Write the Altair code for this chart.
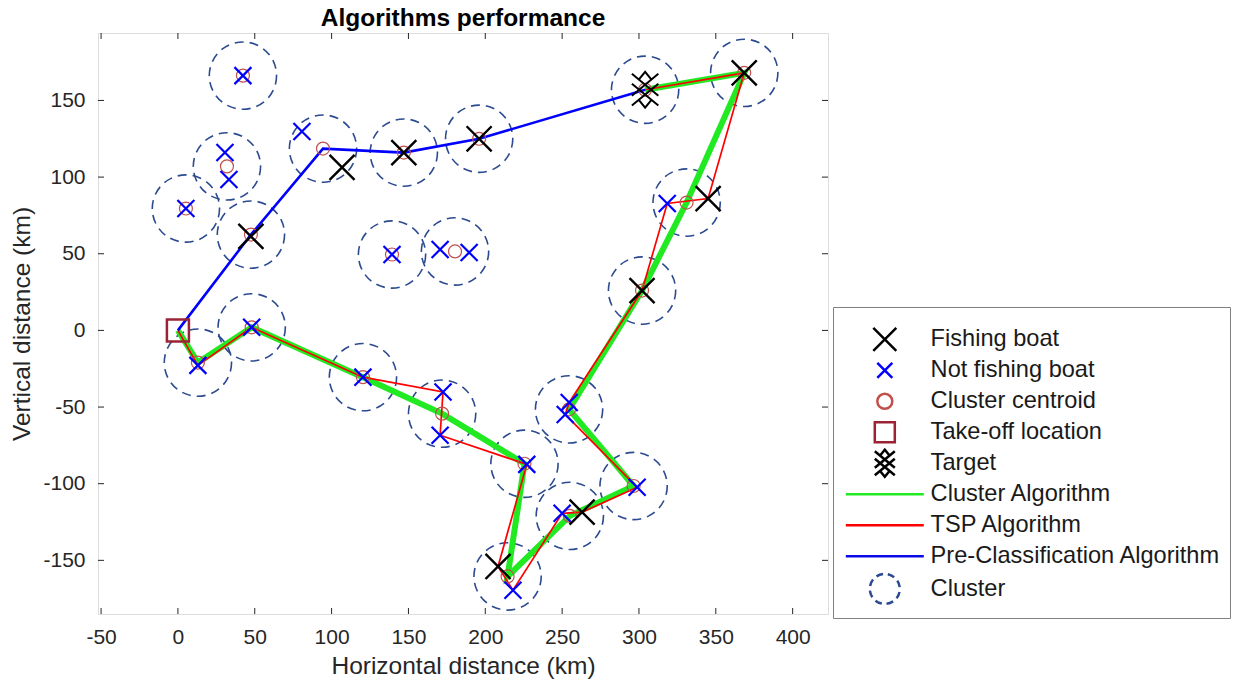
import math
import altair as alt
import pandas as pd

# ---------------- data (km) ----------------
fishing_x = [47.5, 106.8, 147.0, 196.0, 368.5, 345.0, 302.0, 263.0, 208.3]
fishing_y = [61.3, 106.3, 116.0, 125.0, 168.0, 86.0, 26.0, -118.6, -154.0]

notfish_x = [42.3, 30.6, 33.2, 5.2, 80.7, 139.3, 170.6, 189.5, 318.4, 13.0, 48.0, 120.4,
             172.5, 170.6, 227.0, 254.6, 252.0, 298.8, 250.0, 218.0]
notfish_y = [166.2, 116.0, 98.4, 79.5, 129.7, 49.5, 52.8, 50.8, 82.8, -22.8, 2.0, -30.5,
             -40.2, -68.4, -87.4, -47.0, -54.8, -102.3, -119.3, -169.5]

centroid_x = [42.3, 31.9, 5.2, 47.5, 94.4, 147.0, 139.3, 180.3, 196.0, 304.0, 368.5, 331.0,
              302.0, 13.0, 48.0, 120.4, 171.9, 225.5, 254.5, 296.5, 255.0, 214.5]
centroid_y = [166.2, 107.0, 79.5, 62.5, 118.6, 116.0, 49.5, 51.5, 125.0, 157.0, 168.0, 83.4,
              26.0, -21.0, 2.0, -30.5, -54.3, -87.0, -51.5, -101.5, -121.0, -160.5]

takeoff_x = [0.0]
takeoff_y = [0.0]
target_x = [304.0]
target_y = [157.0]

cluster_radius_km = 24.7

green_x = [0, 13, 48, 120.4, 171.9, 225.5, 214.5, 255, 296.5, 254.5, 302, 331, 368.5, 304]
green_y = [0, -21, 2, -30.5, -54.3, -87, -160.5, -121, -101.5, -51.5, 26, 83.4, 168, 157]

red_x = [0, 13, 48, 120.4, 172.5, 170.6, 227, 208.3, 218, 250, 263, 298.8, 252, 254.6, 302,
         318.4, 345, 368.5, 304]
red_y = [0, -22.8, 2, -30.5, -40.2, -68.4, -87.4, -154, -169.5, -119.3, -118.6, -102.3,
         -54.8, -47, 26, 82.8, 86, 168, 157]

blue_x = [0, 47.5, 94.4, 147, 196, 304]
blue_y = [0, 62.5, 118.6, 116, 125, 157]

x_ticks = [-50, 0, 50, 100, 150, 200, 250, 300, 350, 400]
y_ticks = [-150, -100, -50, 0, 50, 100, 150]

cats = ["Fishing boat", "Not fishing boat", "Cluster centroid", "Take-off location", "Target",
        "Cluster Algorithm", "TSP Algorithm", "Pre-Classification Algorithm", "Cluster"]

# ---------------- styles ----------------
X_DOM = [-52, 423]
Y_DOM = [-185, 194]
W, H = 730, 581
PXKM = W / (X_DOM[1] - X_DOM[0])
AX = "#262626"
FONT = "Liberation Sans, Arial, sans-serif"

C_BLACK = "#000000"
C_BLUE = "#0000ff"
C_CENT = "#c0504d"
C_TAKE = "#9b2335"
C_GREEN = "#22ea22"
C_RED = "#ff0000"
C_LBLUE = "#0a0ae6"
C_CLUS = "#2b4a8f"
colors = [C_BLACK, C_BLUE, C_CENT, C_TAKE, C_BLACK, C_GREEN, C_RED, C_LBLUE, C_CLUS]

EXT = 1.35  # common vertical extent of every legend glyph (keeps rows even)
PAD = f"M0,{-EXT}L0,{-EXT}M0,{EXT}L0,{EXT}"


def xpath(h):
    return f"M{-h},{-h}L{h},{h}M{h},{-h}L{-h},{h}" + PAD


def circ(r):
    return f"M{r},0A{r},{r} 0 1,1 {-r},0A{r},{r} 0 1,1 {r},0Z" + PAD


def square(h):
    return f"M{-h},{-h}L{h},{-h}L{h},{h}L{-h},{h}Z" + PAD


def hline(h):
    return f"M{-h},0L{h},0" + PAD


def dashed_circle(r, n=8, frac=0.6):
    parts = []
    for k in range(n):
        a0 = 2 * math.pi * k / n + 0.2
        a1 = a0 + 2 * math.pi / n * frac
        parts.append(f"M{r*math.cos(a0):.3f},{r*math.sin(a0):.3f}"
                     f"A{r},{r} 0 0,1 {r*math.cos(a1):.3f},{r*math.sin(a1):.3f}")
    return "".join(parts)


t = EXT
target_path = (f"M-1,{-t+0.15}L1,{0.45}M1,{-t+0.15}L-1,{0.45}"
               f"M-1,-0.45L1,{t-0.15}M1,-0.45L-1,{t-0.15}"
               f"M-0.45,-0.8L0,{-t}L0.45,-0.8"
               f"M-0.45,0.8L0,{t}L0.45,0.8")

shapes = [xpath(1.15), xpath(0.75), circ(0.75), square(1.0), target_path,
          hline(3.9), hline(3.9), hline(3.9), dashed_circle(1.5)]

# ---------------- frames ----------------
def pts(xs, ys, name):
    return pd.DataFrame({"x": xs, "y": ys, "series": name})


def path_df(xs, ys):
    return pd.DataFrame({"x": xs, "y": ys, "i": list(range(len(xs)))})


xscale = alt.Scale(domain=X_DOM, nice=False, zero=False)
yscale = alt.Scale(domain=Y_DOM, nice=False, zero=False)
xaxis = alt.Axis(values=x_ticks, ticks=False, domain=False, grid=False,
                 labelFont=FONT, labelFontSize=21, labelColor=AX, labelPadding=12,
                 labelExpr="datum.value + ''",
                 title="Horizontal distance (km)", titleFont=FONT, titleFontSize=24.5,
                 titleFontWeight="normal", titleColor=AX, titlePadding=7)
yaxis = alt.Axis(values=y_ticks, ticks=False, domain=False, grid=False,
                 labelFont=FONT, labelFontSize=21, labelColor=AX, labelPadding=13,
                 labelExpr="datum.value + ''",
                 title="Vertical distance (km)", titleFont=FONT, titleFontSize=24.5,
                 titleFontWeight="normal", titleColor=AX, titlePadding=8)

X = alt.X("x:Q", scale=xscale, axis=xaxis)
Y = alt.Y("y:Q", scale=yscale, axis=yaxis)

leg = alt.Legend(title=" ", titleFontSize=1, titlePadding=10.5,
                 orient="none", legendX=735, legendY=274, padding=9,
                 rowPadding=-7.4, symbolSize=400, symbolStrokeWidth=2.5,
                 symbolOpacity=1, symbolFillColor="transparent",
                 labelFont=FONT, labelFontSize=23.6, labelColor="#1a1a1a",
                 labelLimit=600, symbolOffset=31, labelOffset=34,
                 strokeColor="#808080", fillColor="white")

cscale = alt.Scale(domain=cats, range=colors)
sscale = alt.Scale(domain=cats, range=shapes)


def marker_layer(df, size, sw):
    return alt.Chart(df).mark_point(filled=False, opacity=1, size=size, strokeWidth=sw).encode(
        x=X, y=Y,
        color=alt.Color("series:N", scale=cscale, legend=leg),
        shape=alt.Shape("series:N", scale=sscale, legend=leg),
    )


r_px = cluster_radius_km * PXKM
circles = alt.Chart(pts(centroid_x, centroid_y, "Cluster")).mark_point(
    shape="circle", filled=False, opacity=1, size=math.pi * r_px ** 2,
    color=C_CLUS, strokeWidth=1.6, strokeDash=[9, 6]
).encode(x=X, y=Y)

green = alt.Chart(path_df(green_x, green_y)).mark_line(color=C_GREEN, strokeWidth=6).encode(
    x=X, y=Y, order="i:Q")
red = alt.Chart(path_df(red_x, red_y)).mark_line(color=C_RED, strokeWidth=1.7).encode(
    x=X, y=Y, order="i:Q")
blue = alt.Chart(path_df(blue_x, blue_y)).mark_line(color=C_BLUE, strokeWidth=2.6).encode(
    x=X, y=Y, order="i:Q")

centroids = marker_layer(pts(centroid_x, centroid_y, "Cluster centroid"), 300, 1.2)
takeoff = marker_layer(pts(takeoff_x, takeoff_y, "Take-off location"), 484, 2.5)
target = marker_layer(pts(target_x, target_y, "Target"), 700, 2.0)
notfish = marker_layer(pts(notfish_x, notfish_y, "Not fishing boat"), 514, 2.2)
fishing = marker_layer(pts(fishing_x, fishing_y, "Fishing boat"), 473, 2.4)

xt = pd.DataFrame({"x": x_ticks})
yt = pd.DataFrame({"y": y_ticks})
tick_b = alt.Chart(xt).mark_rule(color=AX, strokeWidth=1).encode(x=X, y=alt.value(H), y2=alt.value(H - 6))
tick_t = alt.Chart(xt).mark_rule(color=AX, strokeWidth=1).encode(x=X, y=alt.value(0), y2=alt.value(6))
tick_l = alt.Chart(yt).mark_rule(color=AX, strokeWidth=1).encode(y=Y, x=alt.value(0), x2=alt.value(6))
tick_r = alt.Chart(yt).mark_rule(color=AX, strokeWidth=1).encode(y=Y, x=alt.value(W), x2=alt.value(W - 6))

chart = alt.layer(
    tick_b, tick_t, tick_l, tick_r,
    circles, green, red, blue,
    centroids, takeoff, target, notfish, fishing,
).properties(
    width=W, height=H,
    title=alt.TitleParams("Algorithms performance", font=FONT, fontSize=24.5, fontWeight="bold",
                          color="#000000", anchor="middle", frame="group", offset=8,
                          baseline="alphabetic", dy=26),
    autosize=alt.AutoSizeParams(type="none"),
    padding={"left": 98, "top": 33, "right": 407, "bottom": 74},
).configure_view(stroke="#333333", strokeWidth=1.3, fill="white"
).configure(background="white")

chart.save("out.html", embed_options={"renderer": "svg", "actions": False})
